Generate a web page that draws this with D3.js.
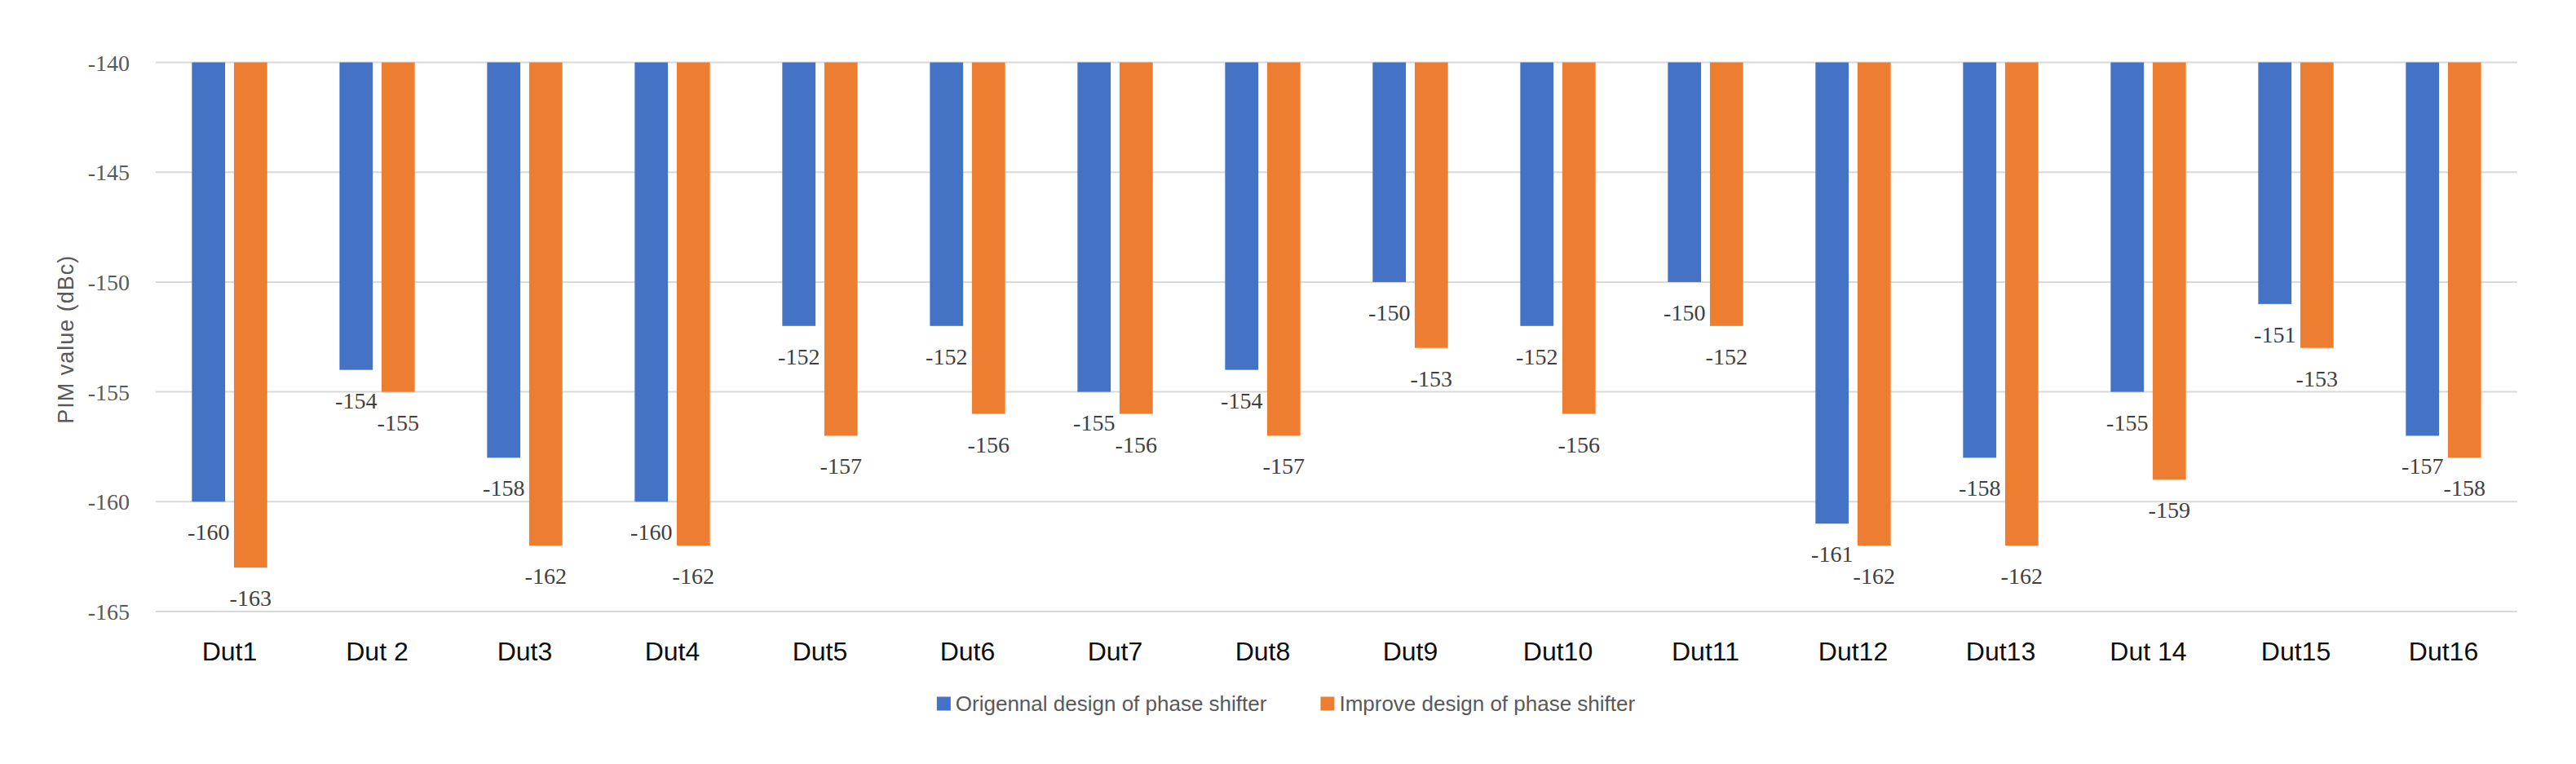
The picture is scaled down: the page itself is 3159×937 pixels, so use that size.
<!DOCTYPE html>
<html>
<head>
<meta charset="utf-8">
<script src="https://cdn.jsdelivr.net/npm/d3@7/dist/d3.min.js"></script>
<style>
  html, body { margin: 0; padding: 0; background: #fff; }
  svg { display: block; }
</style>
</head>
<body>
<svg id="chart" width="3159" height="937"></svg>
<script>
// chart values
const categories = ['Dut1', 'Dut 2', 'Dut3', 'Dut4', 'Dut5', 'Dut6', 'Dut7', 'Dut8',
  'Dut9', 'Dut10', 'Dut11', 'Dut12', 'Dut13', 'Dut 14', 'Dut15', 'Dut16'];
const seriesNames = ['Origennal design of phase shifter', 'Improve design of phase shifter'];
const originalValues = [-160, -154, -158, -160, -152, -152, -155, -154, -150, -152, -150, -161, -158, -155, -151, -157];
const improvedValues = [-163, -155, -162, -162, -157, -156, -156, -157, -153, -156, -152, -162, -162, -159, -153, -158];
const yTicks = [-140, -145, -150, -155, -160, -165];
const yTitle = 'PIM value (dBc)';

const colors = ['#4472C4', '#ED7D31'];
const serif = '"Liberation Serif", "DejaVu Serif", serif';
const sans = '"Liberation Sans", Arial, sans-serif';

const svg = d3.select('#chart');
const plot = { left: 191, right: 3087, top: 76.5, bottom: 750 };

const x0 = d3.scaleBand()
  .domain(categories)
  .range([plot.left, plot.right])
  .paddingInner(0.49)
  .paddingOuter(0.245);

const x1 = d3.scaleBand()
  .domain(seriesNames)
  .range([0, x0.bandwidth()])
  .paddingInner(0.21);

const y = d3.scaleLinear()
  .domain([-140, -165])
  .range([plot.top, plot.bottom]);

// gridlines
svg.append('g')
  .selectAll('line')
  .data(yTicks)
  .join('line')
  .attr('x1', plot.left)
  .attr('x2', plot.right)
  .attr('y1', d => y(d))
  .attr('y2', d => y(d))
  .attr('stroke', '#d9d9d9')
  .attr('stroke-width', 2);

// y tick labels
svg.append('g')
  .selectAll('text')
  .data(yTicks)
  .join('text')
  .attr('x', 159)
  .attr('y', d => y(d) + 10)
  .attr('text-anchor', 'end')
  .attr('font-family', serif)
  .attr('font-size', 28)
  .attr('fill', '#595959')
  .text(d => d);

// y title
svg.append('text')
  .attr('transform', `translate(90, ${(plot.top + plot.bottom) / 2 + 3}) rotate(-90)`)
  .attr('text-anchor', 'middle')
  .attr('font-family', sans)
  .attr('font-size', 27)
  .attr('letter-spacing', 1)
  .attr('fill', '#595959')
  .text(yTitle);

const rows = categories.map((c, i) => ({
  cat: c,
  vals: [originalValues[i], improvedValues[i]].map((v, k) => ({ series: seriesNames[k], k, v }))
}));

const groups = svg.append('g')
  .selectAll('g')
  .data(rows)
  .join('g')
  .attr('transform', d => `translate(${x0(d.cat)},0)`);

// bars hang down from the -140 baseline
groups.selectAll('rect')
  .data(d => d.vals)
  .join('rect')
  .attr('x', d => x1(d.series))
  .attr('width', x1.bandwidth())
  .attr('y', y(-140))
  .attr('height', d => y(d.v) - y(-140))
  .attr('fill', d => colors[d.k]);

// value labels below bar end
groups.selectAll('text')
  .data(d => d.vals)
  .join('text')
  .attr('x', d => x1(d.series) + x1.bandwidth() / 2)
  .attr('y', d => y(d.v) + 47)
  .attr('text-anchor', 'middle')
  .attr('font-family', serif)
  .attr('font-size', 28)
  .attr('fill', '#404040')
  .text(d => d.v);

// category labels
svg.append('g')
  .selectAll('text')
  .data(categories)
  .join('text')
  .attr('x', d => x0(d) + x0.bandwidth() / 2)
  .attr('y', 810)
  .attr('text-anchor', 'middle')
  .attr('font-family', sans)
  .attr('font-size', 32)
  .attr('fill', '#0d0d0d')
  .text(d => d);

// legend, centred on the page
const legend = svg.append('g');
const sw = 17, gapText = 6, gapItem = 66;
let cx = 0;
seriesNames.forEach((name, k) => {
  const item = legend.append('g').attr('transform', `translate(${cx},0)`);
  item.append('rect')
    .attr('x', 0).attr('y', -8.5)
    .attr('width', sw).attr('height', sw)
    .attr('fill', colors[k]);
  const t = item.append('text')
    .attr('x', sw + gapText)
    .attr('y', 9)
    .attr('font-family', sans)
    .attr('font-size', 26)
    .attr('fill', '#595959')
    .text(name);
  cx += sw + gapText + t.node().getComputedTextLength() + gapItem;
});
const legendWidth = cx - gapItem;
legend.attr('transform', `translate(${1577 - legendWidth / 2}, 863)`);
</script>
</body>
</html>
